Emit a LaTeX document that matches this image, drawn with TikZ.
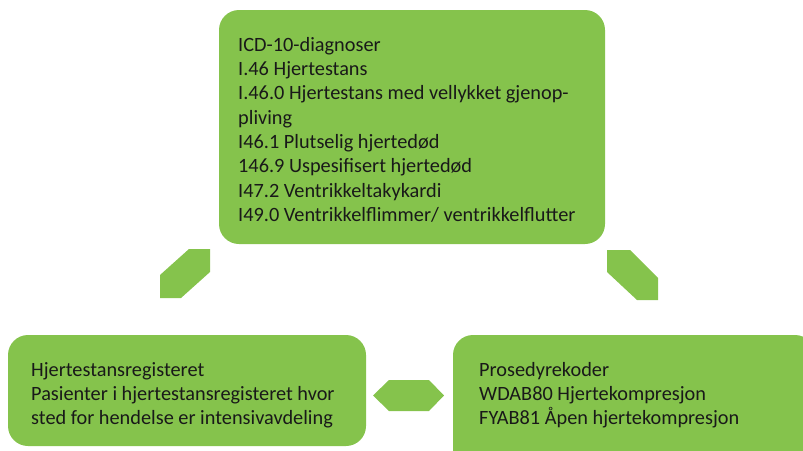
\documentclass[tikz,border=0pt]{standalone}
\usepackage{fontspec}
\setmainfont{Carlito}
\definecolor{boxgreen}{RGB}{133,195,76}

\begin{document}
\begin{tikzpicture}[x=1pt,y=-1pt,
  box/.style={fill=boxgreen, rounded corners=20pt},
  boxtext/.style={anchor=north west, inner sep=0pt, align=left,
    font=\fontsize{20.3pt}{24.3pt}\selectfont, text=black!90}]
  \useasboundingbox (0,0) rectangle (803,450);
  \clip (0,0) rectangle (803,450);
  % the three boxes
  \fill[box] (219,10) rectangle (605,244);
  \fill[box] (8,335) rectangle (366,446);
  \fill[box] (453,335) rectangle (815,470);
  \node[boxtext] (icd) at (238,37) {ICD-10-diagnoser\\
    I.46 Hjertestans\\
    I.46.0 Hjertestans med vellykket gjenop-\\
    pliving\\
    I46.1 Plutselig hjertedød\\
    146.9 Uspesifisert hjertedød\\
    I47.2 Ventrikkeltakykardi\\
    I49.0 Ventrikkelflimmer/ ventrikkelflutter};
  \node[boxtext] (reg) at (31,362) {Hjertestansregisteret\\
    Pasienter i hjertestansregisteret hvor\\
    sted for hendelse er intensivavdeling};
  \node[boxtext] (pros) at (479,362) {Prosedyrekoder\\
    WDAB80 Hjertekompresjon\\
    FYAB81 Åpen hjertekompresjon};
  % block arrows between the boxes
  \fill[boxgreen] (189,249) -- (210,249) -- (210,272) -- (181,298) -- (160,298) -- (160,275) -- cycle;
  \fill[boxgreen] (607,250) -- (630,250) -- (658,278) -- (658,300) -- (637,300) -- (607,272) -- cycle;
  \fill[boxgreen] (373,395.5) -- (389,380) -- (429,380) -- (444,395.5) -- (429,411) -- (389,411) -- cycle;
\end{tikzpicture}
\end{document}
